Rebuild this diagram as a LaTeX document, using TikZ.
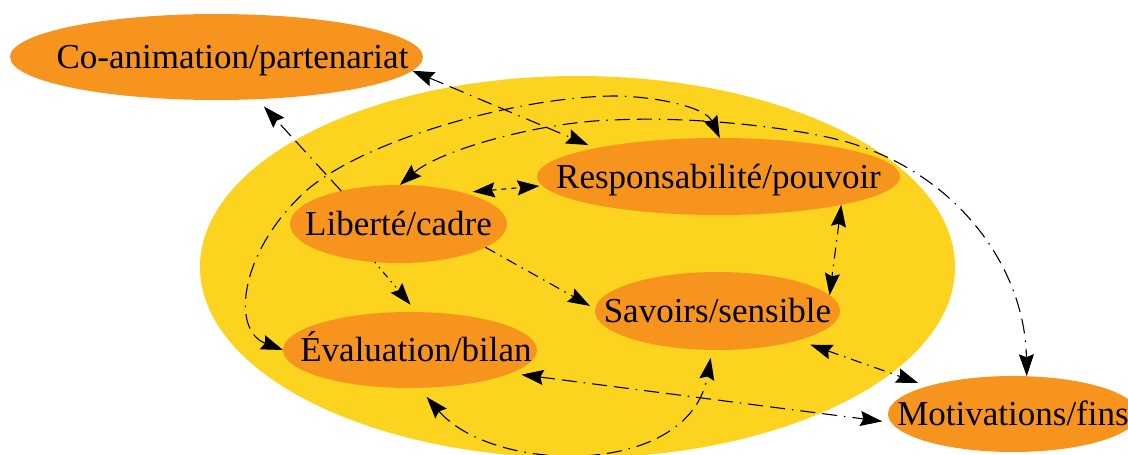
\documentclass[tikz,border=0pt]{standalone}
\usepackage{fontspec}
\setmainfont{Liberation Serif}
\usetikzlibrary{shapes.geometric,arrows.meta}
\definecolor{clusterfill}{RGB}{252,211,30}
\definecolor{topicfill}{RGB}{247,148,29}
% zero-width label so the ellipse keeps its given size
\newcommand{\topiclabel}[1]{\makebox[0pt]{#1}}
\begin{document}
\begin{tikzpicture}[x=1pt,y=-1pt,
  >={Stealth[length=22pt,width=15pt,inset=3pt]},
  topic/.style={ellipse, fill=topicfill, inner sep=0pt, outer sep=0pt,
    text height=23pt, text depth=0pt, font=\fontsize{35}{40}\selectfont},
  link/.style={line width=1.1pt, black},
  dashlong/.style={dash pattern=on 15pt off 7pt on 15pt off 7pt on 1.5pt off 7pt},
  dashmix/.style={dash pattern=on 11pt off 6pt on 1.5pt off 6pt},
  dashshort/.style={dash pattern=on 5pt off 5pt},
  dashdots/.style={dash pattern=on 1.5pt off 5pt on 1.5pt off 5pt on 7pt off 5pt}
]
\useasboundingbox (0,0) rectangle (1128,455);
\clip (0,0) rectangle (1128,455);

% cluster background
\fill[clusterfill] (577.5,267) ellipse [x radius=377.5pt, y radius=191pt];

% topics
\node[topic, minimum width=413pt, minimum height=86pt] (co) at (216.5,57)
  {\topiclabel{\kern32pt Co-animation/partenariat}};
\node[topic, minimum width=363pt, minimum height=77pt] (resp) at (718.5,176.5)
  {\topiclabel{Responsabilité/pouvoir}};
\node[topic, minimum width=217pt, minimum height=78pt] (lib) at (398.5,224)
  {\topiclabel{Liberté/cadre}};
\node[topic, minimum width=245pt, minimum height=78pt] (sav) at (717.5,311)
  {\topiclabel{Savoirs/sensible}};
\node[topic, minimum width=254pt, minimum height=76pt] (eval) at (410,350)
  {\topiclabel{\kern12pt Évaluation/bilan}};
\node[topic, minimum width=250pt, minimum height=76pt] (mot) at (1013,414)
  {\topiclabel{Motivations/fins}};

% straight links
\draw[link, ->, dashlong, shorten >=10pt] (lib.150) -- (co.-46);
\draw[link, <->, dashlong, shorten >=8pt] (co.-4) -- (resp.167);
\draw[link, <->, dashshort, shorten <=10pt, shorten >=3pt] (lib.26) -- (resp.183);
\draw[link, ->, dashdots, shorten >=9.5pt] (lib.238) -- (eval.80);
\draw[link, ->, dashmix, shorten >=6pt] (lib.-15) -- (sav.179);
\draw[link, <->, dashmix] (resp.-13) -- (sav.8);
\draw[link, <->, dashmix, shorten <=13pt, shorten >=10pt] (sav.-20) -- (mot.162);
\draw[link, <->, dashlong, shorten <=11pt, shorten >=9pt] (eval.-13) -- (mot.184);

% curved links
\draw[link, <->, dashlong, shorten <=12pt, shorten >=8pt]
  (eval.-77) .. controls +(-49:115pt) and +(-100:130pt) .. (sav.-98);
\draw[link, <->, dashlong]
  (eval.180) .. controls (230,330) and (240,250) .. (307,190)
  .. controls (368,138) and (520,97) .. (613,96)
  .. controls (653,96) and (705,106.5) .. (resp.88);
\draw[link, <->, dashlong]
  (lib.88) .. controls (440,150) and (540,122) .. (613,120)
  .. controls (690,116) and (794,127) .. (847,142)
  .. controls (960,175) and (1025,270) .. (mot.70);
\end{tikzpicture}
\end{document}
